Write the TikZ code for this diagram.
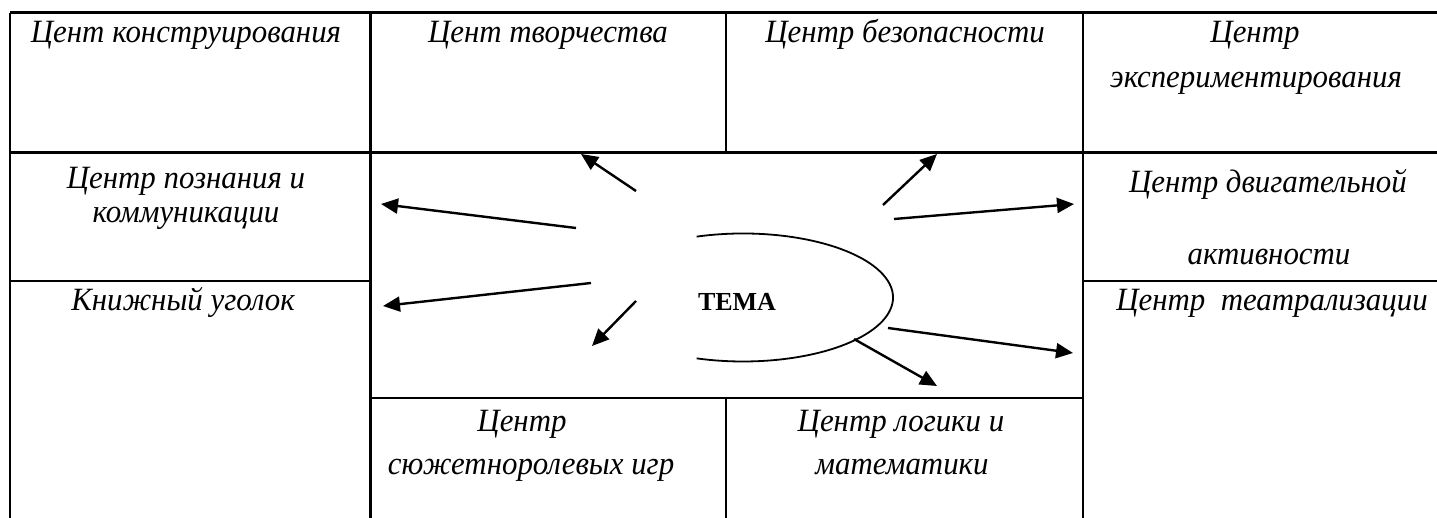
\documentclass[tikz,border=0pt]{standalone}
\usepackage{fontspec}
\usepackage{graphicx}
\setmainfont{Liberation Serif}
\usetikzlibrary{arrows.meta}
\newcommand\narrowtxt[1]{\scalebox{0.95}[1]{#1}}
\begin{document}
\begin{tikzpicture}[x=1pt,y=-1pt,
  gridline/.style={line width=2.7pt},
  lbl/.style={font=\fontsize{32.5}{38}\selectfont\itshape, inner sep=0pt, anchor=base},
  arr/.style={line width=2.4pt, -{Triangle[length=17pt,width=15pt]}},
  ovalline/.style={line width=1.8pt}
]
\useasboundingbox (0,0) rectangle (1437,518);
% table lines
\draw[gridline] (10,12.7) -- (1437,12.7);
\draw[gridline] (10,152.7) -- (1437,152.7);
\draw[gridline] (10,12.7) -- (10,518);
\draw[gridline] (370.7,12.7) -- (370.7,518);
\draw[gridline] (1083,12.7) -- (1083,518);
\draw[gridline] (726,12.7) -- (726,152.7);
\draw[gridline] (726,398) -- (726,518);
\draw[gridline] (10,281) -- (370.7,281);
\draw[gridline] (1083,281) -- (1437,281);
\draw[gridline] (370.7,398) -- (1083,398);
% labels
\node[lbl] (t1) at (186,43) {\narrowtxt{Цент конструирования}};
\node[lbl] (t2) at (548,43) {\narrowtxt{Цент творчества}};
\node[lbl] (t3) at (905,43) {\narrowtxt{Центр безопасности}};
\node[lbl] (t4a) at (1255,43) {\narrowtxt{Центр}};
\node[lbl] (t4b) at (1256,88) {\narrowtxt{экспериментирования}};
\node[lbl] (t5a) at (186,189) {\narrowtxt{Центр познания и}};
\node[lbl] (t5b) at (186,223) {\narrowtxt{коммуникации}};
\node[lbl] (t6a) at (1268,193) {\narrowtxt{Центр двигательной}};
\node[lbl] (t6b) at (1269,265) {\narrowtxt{активности}};
\node[lbl] (t7) at (183,311) {\narrowtxt{Книжный уголок}};
\node[lbl] (t8) at (1272,311) {\narrowtxt{Центр~ театрализации}};
\node[lbl] (t9a) at (522,431) {\narrowtxt{Центр}};
\node[lbl] (t9b) at (531,474) {\narrowtxt{сюжетноролевых игр}};
\node[lbl] (t10a) at (901,431) {\narrowtxt{Центр логики и}};
\node[lbl] (t10b) at (902,474) {\narrowtxt{математики}};
% theme
\node[font=\fontsize{26}{30}\selectfont\bfseries, inner sep=0pt, anchor=base] (tema) at (737,311) {ТЕМА};
\coordinate (ec) at (743,297.5);
\draw[ovalline] (ec) ++(108:150pt and 64pt) arc[start angle=108, end angle=-108, x radius=150pt, y radius=64pt];
% arrow endpoints
\coordinate (s1) at (636,191); \coordinate (e1) at (581,154);
\coordinate (s2) at (576,228); \coordinate (e2) at (381,204);
\coordinate (s3) at (591,283); \coordinate (e3) at (383,306);
\coordinate (s4) at (636,301); \coordinate (e4) at (592,346);
\coordinate (s5) at (883,205); \coordinate (e5) at (937,154);
\coordinate (s6) at (894,219); \coordinate (e6) at (1074,204);
\coordinate (s7) at (888,328); \coordinate (e7) at (1073,353);
\coordinate (s8) at (854,339); \coordinate (e8) at (937,386);
\foreach \i in {1,...,8} \draw[arr] (s\i) -- (e\i);
\end{tikzpicture}
\end{document}
